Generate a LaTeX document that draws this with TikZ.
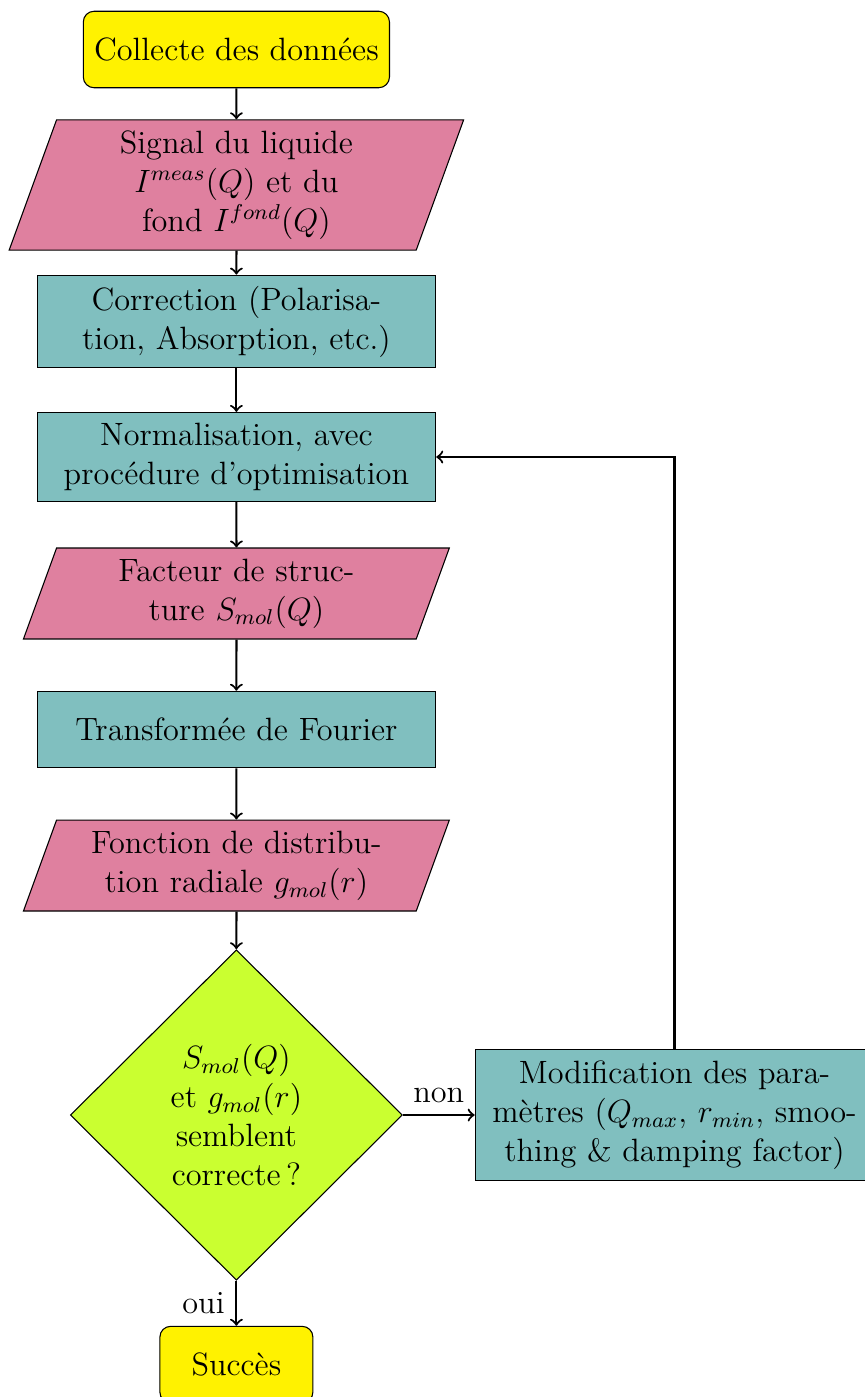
\documentclass[tikz,border=0pt,12pt]{standalone}
\usepackage{amsmath,amssymb}
\usepackage{tikz}
\usetikzlibrary{shapes.geometric}
\definecolor{ioc}{RGB}{223,128,159}
\definecolor{procc}{RGB}{128,191,191}
\definecolor{decc}{RGB}{202,255,48}
\tikzset{
  startstop/.style={rectangle,rounded corners,draw=black,fill=yellow,minimum width=2cm,minimum height=1cm,align=center},
  io/.style={trapezium,trapezium left angle=70,trapezium right angle=110,draw=black,fill=ioc,text width=4.42cm,align=center,minimum height=1cm},
  process/.style={rectangle,draw=black,fill=procc,text width=4.93cm,align=center,minimum height=1cm},
  decision/.style={diamond,draw=black,fill=decc,align=center,inner sep=0pt,minimum width=4.34cm,minimum height=4.32cm},
  arrow/.style={thick,->}
}

\begin{document}
\begin{tikzpicture}
  \useasboundingbox (0,0) rectangle (11.294,-18.261);
  \node[startstop] (collect) at (3.09,-0.647) {Collecte des données};
  \node[io] (signal) at (3.09,-2.418) {Signal du liquide\\ $I^{meas}(Q)$ et du\\ fond $I^{fond}(Q)$};
  \node[process] (correct) at (3.09,-4.203) {Correction (Polarisa-\\tion, Absorption, etc.)};
  \node[process] (norm) at (3.09,-5.974) {Normalisation, avec\\ procédure d'optimisation};
  \node[io] (facteur) at (3.09,-7.758) {Facteur de struc-\\ture $S_{mol}(Q)$};
  \node[process] (fourier) at (3.09,-9.536) {Transformée de Fourier};
  \node[io] (gmol) at (3.09,-11.314) {Fonction de distribu-\\tion radiale $g_{mol}(r)$};
  \node[decision] (test) at (3.09,-14.575) {$S_{mol}(Q)$\\ et $g_{mol}(r)$\\ semblent\\ correcte\,?};
  \node[startstop] (succes) at (3.09,-17.837) {Succès};
  \node[process] (modif) at (8.817,-14.575) {Modification des para-\\mètres ($Q_{max}$, $r_{min}$, smoo-\\thing \& damping factor)};

  \draw[arrow] (collect) -- (signal);
  \draw[arrow] (signal) -- (correct);
  \draw[arrow] (correct) -- (norm);
  \draw[arrow] (norm) -- (facteur);
  \draw[arrow] (facteur) -- (fourier);
  \draw[arrow] (fourier) -- (gmol);
  \draw[arrow] (gmol) -- (test);
  \draw[arrow] (test) -- node[above] {non} (modif);
  \draw[arrow] (test) -- node[left] {oui} (succes);
  \draw[arrow] (modif.north) |- (norm.east);
\end{tikzpicture}
\end{document}
